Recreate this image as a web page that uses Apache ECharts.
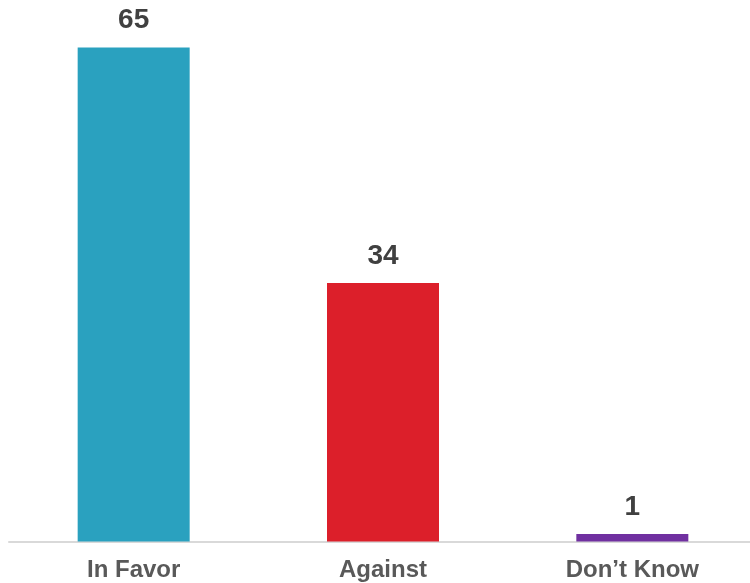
<!DOCTYPE html>
<html><head><meta charset="utf-8">
<script src="https://cdn.jsdelivr.net/npm/echarts@6/dist/echarts.min.js"></script>
<style>html,body{margin:0;padding:0;background:#fff}#c{width:750px;height:583px}</style>
</head><body><div id="c"></div>
<script>
const categories = ['In Favor', 'Against', 'Don\u2019t Know'];
const values = [65, 34, 1];
const colors = ['#2aa1bf', '#dc1f2a', '#7030a0'];

const chart = echarts.init(document.getElementById('c'), null, {renderer: 'canvas'});
chart.setOption({
  animation: false,
  grid: {left: 9, right: -7, top: 9.5, bottom: 41.5, containLabel: false, outerBoundsMode: 'none'},
  xAxis: {
    type: 'category', data: categories,
    axisLine: {lineStyle: {color: '#d9d9d9', width: 2}},
    axisTick: {show: false},
    axisLabel: {color: '#595959', fontSize: 24, fontWeight: 'bold', fontFamily: 'Liberation Sans, Arial, sans-serif', margin: 17}
  },
  yAxis: {type: 'value', min: 0, max: 70, show: false, splitLine: {show: false}},
  series: [{
    type: 'bar', barWidth: 112,
    data: values.map((v, i) => ({value: v, itemStyle: {color: colors[i]}})),
    label: {show: true, position: 'top', distance: 13, color: '#404040', fontSize: 28, fontWeight: 'bold', fontFamily: 'Liberation Sans, Arial, sans-serif'}
  }]
});
</script></body></html>
